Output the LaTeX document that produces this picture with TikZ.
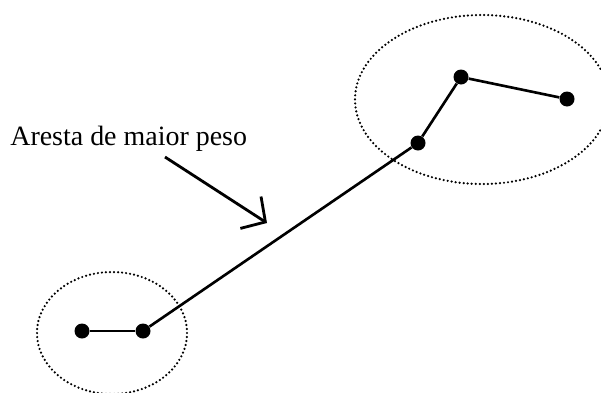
\documentclass[tikz,border=0pt]{standalone}
\usepackage{fontspec}
\setmainfont{Liberation Serif}
\usepackage{tikz}
\usetikzlibrary{arrows.meta,positioning}

\begin{document}
\begin{tikzpicture}[
        vertex/.style={circle, fill=black, inner sep=0pt, minimum size=0.3cm},
        edge/.style={line width=1.5pt, black},
        cluster/.style={line width=1.4pt, line cap=round, dash pattern=on 0pt off 2.3pt},
        pointer/.style={-{Straight Barb[length=0.35cm, width=0.76cm]}, line width=1.6pt},
        caption/.style={anchor=base west, inner sep=0pt, font=\fontsize{15.9}{18}\selectfont}
    ]
        \useasboundingbox (0,0) rectangle (12.02,7.84);

        % Clusters
        \draw[cluster] (2.24,1.18) ellipse (1.5cm and 1.22cm);
        \draw[cluster] (9.64,5.85) ellipse (2.54cm and 1.69cm);

        % Vertices
        \node[vertex] (a) at (1.64,1.22) {};
        \node[vertex] (b) at (2.86,1.22) {};
        \node[vertex] (c) at (8.36,4.98) {};
        \node[vertex] (d) at (9.22,6.30) {};
        \node[vertex] (e) at (11.34,5.86) {};

        % Edges
        \draw[edge] (a) -- (b);
        \draw[edge] (b) -- (c);
        \draw[edge] (c) -- (d);
        \draw[edge] (d) -- (e);

        % Label
        \node[caption] (label) at (0.2,4.94) {Aresta de maior peso};
        \coordinate (tail) at (3.30,4.70);
        \coordinate (tip) at (5.34,3.38);
        \draw[pointer] (tail) -- (tip);

    \end{tikzpicture}
\end{document}
